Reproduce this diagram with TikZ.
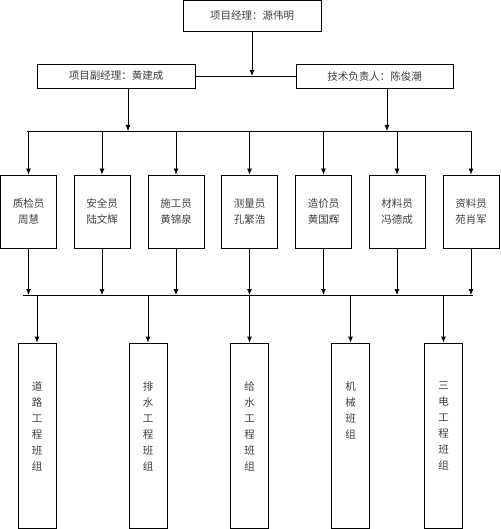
\documentclass[tikz,border=0pt]{standalone}
\usepackage{fontspec}
\newfontfamily\cjk{Noto Sans CJK SC}
\usetikzlibrary{positioning,arrows.meta}

\begin{document}
\begin{tikzpicture}[x=1pt,y=-1pt,line width=0.8pt,>={Latex[length=6pt,width=5pt]},
  box/.style={draw,inner sep=0pt,text=black!75,font=\cjk\fontsize{10.5}{16}\selectfont,align=center},
  staff/.style={box,minimum width=56,minimum height=73},
  team/.style={box,minimum width=38,minimum height=185},
  teamtext/.style={inner sep=3pt,text=black!75,font=\cjk\fontsize{10.5}{16}\selectfont,align=center}]
\useasboundingbox (0,0) rectangle (500,529);

% top level
\node[box,minimum width=138,minimum height=31] (pm) at (252,16) {项目经理：源伟明};
\node[box,minimum width=158,minimum height=24] (dep) at (116,76) {项目副经理：黄建成};
\node[box,minimum width=157,minimum height=24] (tech) at (374.5,76) {技术负责人：陈俊潮};

\draw (dep.east) -- (tech.west);
\draw[->] (pm.south) -- (pm.south |- dep.east);

% staff row
\coordinate (bl) at (27,131);
\coordinate (br) at (471,131);
\draw (bl) -- (br);
\draw[->] ([xshift=12]dep.south) -- ([xshift=12]dep.south |- bl);
\draw[->] ([xshift=12.5]tech.south) -- ([xshift=12.5]tech.south |- bl);

\node[staff] (s1) at (28.5,211.5) {质检员\\周慧};
\node[staff] (s2) at (102,211.5) {安全员\\陆文辉};
\node[staff] (s3) at (176,211.5) {施工员\\黄锦泉};
\node[staff] (s4) at (249.5,211.5) {测量员\\孔繁浩};
\node[staff] (s5) at (323.5,211.5) {造价员\\黄国辉};
\node[staff] (s6) at (397,211.5) {材料员\\冯德成};
\node[staff] (s7) at (471,211.5) {资料员\\苑肖军};

\coordinate (cl) at (23,295);
\coordinate (cr) at (473,295);
\draw (cl) -- (cr);
\foreach \s in {s1,s2,s3,s4,s5,s6,s7}{
  \draw[->] (\s.north |- bl) -- (\s.north);
  \draw[->] (\s.south) -- (\s.south |- cl);
}

% teams
\node[team] (t1) at (37,435.5) {};
\node[team] (t2) at (148,435.5) {};
\node[team] (t3) at (249.5,435.5) {};
\node[team] (t4) at (350.5,435.5) {};
\node[team] (t5) at (443.5,435.5) {};

\node[teamtext,below=36pt of t1.north] {道\\路\\工\\程\\班\\组};
\node[teamtext,below=36pt of t2.north] {排\\水\\工\\程\\班\\组};
\node[teamtext,below=36pt of t3.north] {给\\水\\工\\程\\班\\组};
\node[teamtext,below=36pt of t4.north] {机\\械\\班\\组};
\node[teamtext,below=36pt of t5.north] {三\\电\\工\\程\\班\\组};

\foreach \t in {t1,t2,t3,t4,t5}
  \draw[->] (\t.north |- cl) -- (\t.north);
\end{tikzpicture}
\end{document}
